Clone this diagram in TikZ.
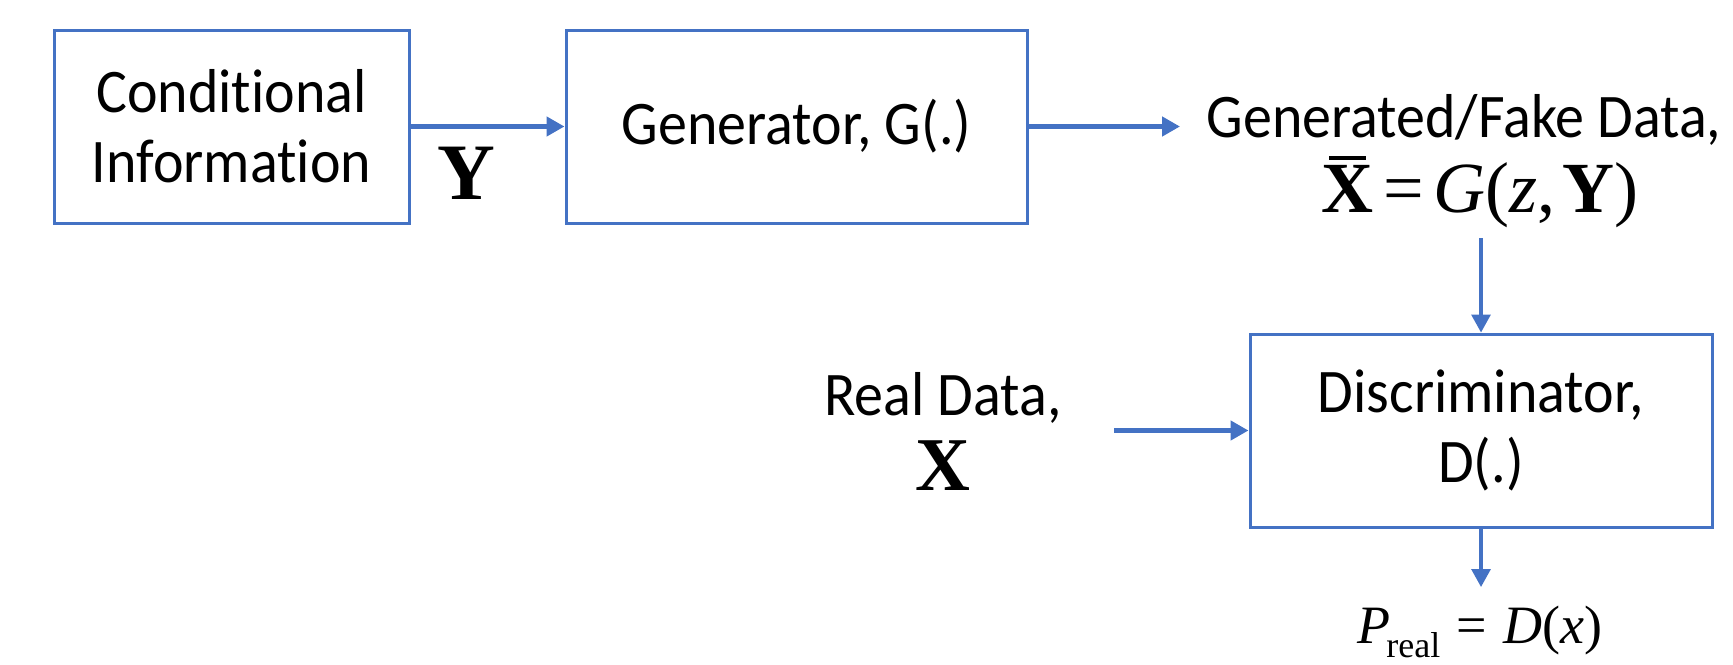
\documentclass[tikz,border=0pt]{standalone}
\usepackage{fontspec}
\setmainfont{Carlito}[Ligatures=NoCommon, FakeStretch=0.935]
\newfontfamily\tnr{Liberation Serif}
\usetikzlibrary{arrows.meta}
\definecolor{flowblue}{HTML}{4472C4}

% bold letter with a short bar above it
\newcommand\barbold[1]{\setbox0\hbox{\bfseries#1}%
  \hbox{\rlap{\hbox to \wd0{\hss\raisebox{1.1\ht0}{\rule{0.72\wd0}{0.055em}}\hss}}\box0}}

\begin{document}
\begin{tikzpicture}[x=0.5pt,y=-0.5pt,
  block/.style={draw=flowblue, line width=1.5pt, inner sep=0pt,
    align=center, font=\fontsize{31}{35}\selectfont},
  txt/.style={inner sep=0pt, anchor=base, align=center},
  flowh/.style={draw=flowblue, line width=2.25pt,
    -{Triangle[length=9pt,width=9.5pt]}},
  flowv/.style={draw=flowblue, line width=1.6pt,
    -{Triangle[length=9pt,width=9.5pt]}}]
\useasboundingbox (0,0) rectangle (1733,664);

% blocks
\node[block, minimum width=177.5pt, minimum height=96.5pt] (cond) at (231.5,126.5)
  {Conditional\\Information};
\node[block, minimum width=230.5pt, minimum height=96.5pt] (gen) at (796.5,126.5)
  {Generator, G(.)};
\node[block, minimum width=231pt, minimum height=96.5pt] (disc) at (1481,430.5)
  {Discriminator,\\D(.)};

% labels
\node[txt, font=\tnr\bfseries\fontsize{40}{44}\selectfont] (ylab) at (466,199) {Y};
\node[txt, font=\fontsize{31}{35}\selectfont] (fake) at (1464,137) {Generated/Fake Data,};
\node[txt, font=\tnr\fontsize{36}{40}\selectfont] (gfun) at (1480,212)
  {\barbold{X}\hspace{0.14em}=\hspace{0.12em}\textit{G}(\textit{z},\hspace{0.1em}\textbf{Y})};
\node[txt, font=\fontsize{31}{35}\selectfont] (real) at (943,415) {Real Data,};
\node[txt, font=\tnr\bfseries\fontsize{38}{42}\selectfont] (xlab) at (943,490) {X};
\node[txt, font=\tnr\fontsize{27}{30}\selectfont] (prob) at (1480,643)
  {\textit{P}\kern-0.08em\raisebox{-0.27em}{\fontsize{18}{20}\selectfont real}\hspace{0.3em}=\hspace{0.3em}\textit{D}(\textit{x})};

% free ends of the connectors
\coordinate (gout) at (1180,126.5);
\coordinate (fdown) at (1481,238);
\coordinate (rin) at (1114,430.5);
\coordinate (pout) at (1481,587);

% connectors
\draw[flowh] (cond.east) -- (gen.west);
\draw[flowh] (gen.east) -- (gout);
\draw[flowv] (fdown) -- (disc.north);
\draw[flowh] (rin) -- (disc.west);
\draw[flowv] (disc.south) -- (pout);
\end{tikzpicture}
\end{document}
